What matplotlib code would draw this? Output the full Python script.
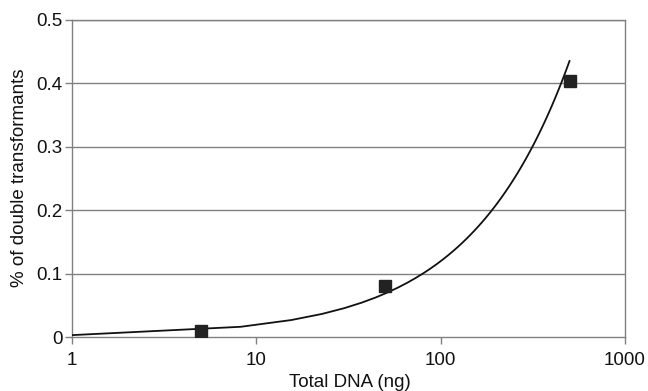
import numpy as np
import matplotlib
matplotlib.use("Agg")
import matplotlib.pyplot as plt

plt.rcParams['font.family'] = ['Liberation Sans', 'DejaVu Sans']

dna_ng = [5, 50, 500]
double_pct = [0.010, 0.080, 0.403]
x_ticks = [1, 10, 100, 1000]
x_tick_labels = ['1', '10', '100', '1000']
y_ticks = [0, 0.1, 0.2, 0.3, 0.4, 0.5]
y_tick_labels = ['0', '0.1', '0.2', '0.3', '0.4', '0.5']

# power trendline fitted to the data (as spreadsheet trendline)
b, lna = np.polyfit(np.log(dna_ng), np.log(double_pct), 1)
xf = np.linspace(1, 500, 70)
yf = np.exp(lna) * xf ** b

fig = plt.figure(figsize=(6.48, 3.91), dpi=100)
ax = fig.add_axes([72/648, 1 - 337/391, (625-72)/648, (337-20)/391])
ax.set_xscale('log')
ax.set_xlim(1, 1000)
ax.set_ylim(0, 0.5)

for yv in y_ticks[1:]:
    ax.axhline(yv, color='#808080', lw=1.0, zorder=1)

ax.plot(xf, yf, color='#111111', lw=1.3, zorder=3)
ax.plot(dna_ng, double_pct, 's', color='#222222', markersize=8.5, zorder=4, linestyle='none')

ax.set_xticks(x_ticks)
ax.set_xticklabels(x_tick_labels)
ax.xaxis.set_minor_locator(matplotlib.ticker.NullLocator())
ax.set_yticks(y_ticks)
ax.set_yticklabels(y_tick_labels)
ax.tick_params(axis='both', direction='out', length=5, width=1, color='#808080',
               labelsize=13.5, labelcolor='#111111', pad=2)
ax.tick_params(axis='x', pad=6)
for s in ax.spines.values():
    s.set_color('#808080')
    s.set_linewidth(1.0)

fig.text(350/648, 1 - 387/391, 'Total DNA (ng)', fontsize=13.5, color='#111111',
         ha='center', va='baseline')
fig.text(20/648, 1 - 178/391, '% of double transformants', fontsize=13.5, color='#111111',
         ha='center', va='center', rotation=90)

fig.savefig('out.png', dpi=100)
